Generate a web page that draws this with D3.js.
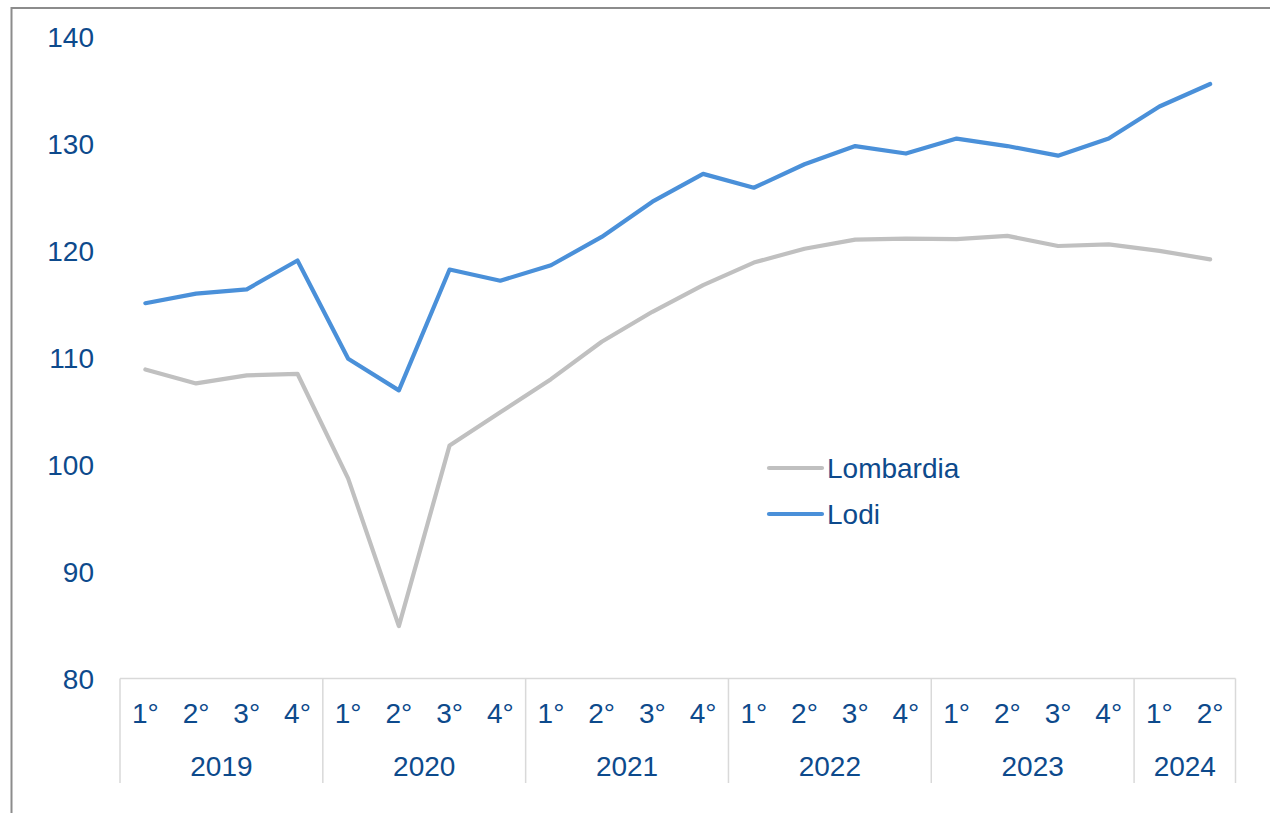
<!DOCTYPE html>
<html>
<head>
<meta charset="utf-8">
<script src="https://cdn.jsdelivr.net/npm/d3@7"></script>
<style>
  html, body { margin: 0; padding: 0; background: #fff; }
  svg { display: block; }
  text { font-family: "Liberation Sans", Arial, sans-serif; fill: #0d4a8c; }
</style>
</head>
<body>
<svg id="chart" width="1270" height="813"></svg>
<script>
// Quarterly index, 2019 Q1 – 2024 Q2
const years = ["2019", "2020", "2021", "2022", "2023", "2024"];
const quartersPerYear = [4, 4, 4, 4, 4, 2];
const quarterLabels = ["1°", "2°", "3°", "4°"];

const lombardia = [108.9, 107.6, 108.35, 108.5, 98.7, 84.9, 101.8, 104.9,
                   108.0, 111.5, 114.3, 116.8, 118.9, 120.2, 121.05, 121.15,
                   121.1, 121.4, 120.45, 120.6, 120.0, 119.2];
const lodi = [115.1, 116.0, 116.4, 119.1, 109.9, 106.95, 118.25, 117.2,
              118.65, 121.3, 124.6, 127.2, 125.9, 128.1, 129.8, 129.1,
              130.5, 129.8, 128.9, 130.5, 133.5, 135.6];

const yTicks = [80, 90, 100, 110, 120, 130, 140];

const series = [
  { name: "Lombardia", values: lombardia, color: "#c0c0c0" },
  { name: "Lodi", values: lodi, color: "#4a90d9" }
];

const fontSize = 28;

// Category keys, one per quarter
const cats = [];
years.forEach((yr, i) => {
  for (let q = 0; q < quartersPerYear[i]; q++) cats.push({ key: yr + "-" + (q + 1), year: yr, q: q });
});

const svg = d3.select("#chart");

// Outer frame (runs past the right and bottom edges)
svg.append("rect")
  .attr("x", 11.5).attr("y", 8)
  .attr("width", 1400).attr("height", 900)
  .attr("fill", "none").attr("stroke", "#8c8c8c").attr("stroke-width", 2);

const plotLeft = 120, plotRight = 1235.5, plotTop = 37, plotBottom = 678.5;

const x = d3.scaleBand().domain(cats.map(c => c.key)).range([plotLeft, plotRight]).padding(0);
const y = d3.scaleLinear().domain([80, 140]).range([plotBottom, plotTop]);

// Y axis: labels only
const yAxis = svg.append("g")
  .attr("transform", `translate(${plotLeft - 26},0)`)
  .call(d3.axisLeft(y).tickValues(yTicks).tickSize(0).tickPadding(0));
yAxis.select(".domain").remove();
yAxis.selectAll("text")
  .attr("font-size", fontSize).attr("dy", "0.35em")
  .style("font-family", "'Liberation Sans', Arial, sans-serif")
  .style("fill", "#0d4a8c");

// Category axis: baseline and year separators
const axisColor = "#d9d9d9";
svg.append("line")
  .attr("x1", plotLeft).attr("x2", plotRight)
  .attr("y1", plotBottom).attr("y2", plotBottom)
  .attr("stroke", axisColor).attr("stroke-width", 1.5);

let start = 0;
const yearSpans = years.map((yr, i) => {
  const span = { year: yr, first: cats[start].key, last: cats[start + quartersPerYear[i] - 1].key };
  start += quartersPerYear[i];
  return span;
});
const bounds = [x(yearSpans[0].first)].concat(yearSpans.map(s => x(s.last) + x.bandwidth()));
svg.selectAll("line.sep").data(bounds).join("line")
  .attr("class", "sep")
  .attr("x1", d => d).attr("x2", d => d)
  .attr("y1", plotBottom).attr("y2", 783)
  .attr("stroke", axisColor).attr("stroke-width", 1.5);

// Quarter labels
svg.selectAll("text.q").data(cats).join("text")
  .attr("class", "q")
  .attr("x", d => x(d.key) + x.bandwidth() / 2)
  .attr("y", 723)
  .attr("text-anchor", "middle")
  .attr("font-size", fontSize)
  .text(d => quarterLabels[d.q]);

// Year labels
svg.selectAll("text.yr").data(yearSpans).join("text")
  .attr("class", "yr")
  .attr("x", d => (x(d.first) + x(d.last) + x.bandwidth()) / 2)
  .attr("y", 776)
  .attr("text-anchor", "middle")
  .attr("font-size", fontSize)
  .text(d => d.year);

// Lines
const line = d3.line()
  .x((d, i) => x(cats[i].key) + x.bandwidth() / 2)
  .y(d => y(d));

svg.selectAll("path.series").data(series).join("path")
  .attr("class", "series")
  .attr("d", d => line(d.values))
  .attr("fill", "none")
  .attr("stroke", d => d.color)
  .attr("stroke-width", 4.2)
  .attr("stroke-linejoin", "round")
  .attr("stroke-linecap", "round");

// Legend
const legend = svg.append("g").attr("transform", "translate(769,468)");
series.forEach((s, i) => {
  const g = legend.append("g").attr("transform", `translate(0,${i * 46})`);
  g.append("line")
    .attr("x1", 0).attr("x2", 53).attr("y1", 0).attr("y2", 0)
    .attr("stroke", s.color).attr("stroke-width", 4.2).attr("stroke-linecap", "round");
  g.append("text")
    .attr("x", 58).attr("y", 0).attr("dy", "0.35em")
    .attr("font-size", fontSize)
    .text(s.name);
});
</script>
</body>
</html>
